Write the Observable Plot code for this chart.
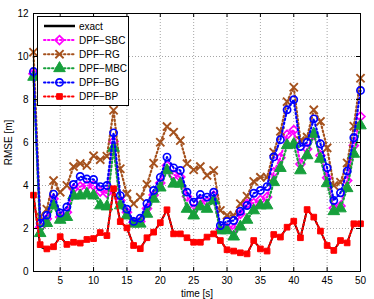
<!DOCTYPE html>
<html><head><meta charset="utf-8">
<script src="https://cdn.jsdelivr.net/npm/d3@7"></script>
<script src="https://cdn.jsdelivr.net/npm/@observablehq/plot@0.6"></script>
<style>
body{margin:0;background:#fff;}
#wrap{position:relative;width:374px;height:299px;font-family:"Liberation Sans",Arial,sans-serif;}
#legend{position:absolute;left:37px;top:16px;width:92px;height:90px;border:1px solid #000;background:#fff;box-sizing:border-box;}
#legend svg{position:absolute;left:0;top:0;}
</style></head><body><div id="wrap"></div>
<script>
const time = [1,2,3,4,5,6,7,8,9,10,11,12,13,14,15,16,17,18,19,20,21,22,23,24,25,26,27,28,29,30,31,32,33,34,35,36,37,38,39,40,41,42,43,44,45,46,47,48,49,50];
const exact = [3.55,1.15,1.0,1.15,1.62,1.26,1.36,1.32,1.49,1.53,1.81,1.67,3.85,2.32,2.03,1.21,1.06,1.57,1.83,2.27,2.87,1.75,1.75,1.57,1.36,1.36,1.6,1.75,1.44,1.01,0.95,0.87,0.82,1.44,1.05,0.95,1.72,1.6,2.06,2.34,1.57,2.88,2.53,1.88,1.21,0.98,1.44,1.33,2.22,2.22];
const dpfSBC = [9.2,2.06,2.45,3.38,2.53,2.76,3.85,3.95,4.0,4.0,3.72,3.65,6.05,3.3,2.76,2.29,2.33,2.93,3.56,4.12,4.93,4.5,4.39,3.49,2.91,3.3,3.25,3.53,1.98,2.03,1.98,2.68,3.15,3.18,3.33,3.46,4.61,5.29,6.36,6.58,5.0,5.7,6.35,5.4,4.36,2.95,3.05,4.23,5.86,7.21];
const dpfRG = [10.2,2.55,2.9,4.23,3.69,4.0,4.88,5.02,4.93,5.38,5.2,5.36,7.5,4.78,3.61,3.15,3.45,4.05,5.04,6.01,6.74,6.48,6.09,5.01,4.73,4.88,4.47,4.7,2.84,2.62,2.6,3.15,3.5,4.19,4.38,4.38,5.55,6.52,7.9,8.57,6.09,6.25,7.52,6.98,5.75,4.0,4.15,5.05,6.76,8.99];
const dpfMBC = [9.05,1.78,2.25,3.07,2.4,2.53,3.53,3.53,3.61,3.53,3.07,3.02,5.75,3.07,2.6,2.22,2.22,2.68,3.38,3.9,4.7,4.08,4.08,2.91,2.6,3.02,2.91,3.3,1.91,1.91,1.62,2.08,2.4,2.84,3.07,3.07,4.15,4.81,5.87,5.92,4.7,5.4,6.4,5.24,4.1,2.8,2.93,3.87,5.47,6.79];
const dpfBG = [9.3,2.25,2.62,3.6,2.72,3.0,4.05,4.42,4.3,4.28,3.95,4.0,6.45,3.53,2.9,2.33,2.48,3.16,3.77,4.38,5.32,4.82,4.7,3.69,3.22,3.58,3.46,3.69,2.14,2.33,2.37,2.8,3.07,3.64,3.77,3.95,5.33,6.13,7.52,7.99,5.81,6.01,7.1,5.94,4.82,3.3,3.66,4.67,6.22,8.42];
const dpfBP = [3.55,1.25,1.05,1.15,1.62,1.26,1.36,1.32,1.49,1.53,1.81,1.67,3.85,2.32,2.03,1.21,1.06,1.57,1.83,2.27,2.87,1.75,1.75,1.57,1.36,1.36,1.6,1.75,1.44,1.01,0.95,0.87,0.82,1.44,1.05,0.95,1.72,1.6,2.06,2.34,1.57,2.88,2.53,1.88,1.21,0.98,1.44,1.33,2.22,2.22];
const xTicks = [5,10,15,20,25,30,35,40,45,50];
const yTicks = [0,2,4,6,8,10,12];
const seriesNames = ["exact","DPF−SBC","DPF−RG","DPF−MBC","DPF−BG","DPF−BP"];

const styles = [
  {color:"#000000", solid:true},
  {color:"#ff00ff", symbol:"diamond2", fill:"none", r:4.0, sw:1.7},
  {color:"#a5521e", symbol:"times", fill:"none", r:3.8, sw:1.9},
  {color:"#17a03c", symbol:"triangle", fill:"#17a03c", r:4.3, sw:1},
  {color:"#0000ff", symbol:"circle", fill:"none", r:3.6, sw:1.7},
  {color:"#ff0000", symbol:"square", fill:"#ff0000", r:3.2, sw:1}
];
const values = [exact, dpfSBC, dpfRG, dpfMBC, dpfBG, dpfBP];

const W = 374, H = 299, mL = 33, mR = 14, mT = 13, mB = 28;
const iW = W - mL - mR, iH = H - mT - mB;

const marks = [
  Plot.gridX(xTicks, {stroke:"#000", strokeOpacity:0.35, strokeDasharray:"1,2"}),
  Plot.gridY(yTicks, {stroke:"#000", strokeOpacity:0.35, strokeDasharray:"1,2"}),
];
values.forEach((vals, i) => {
  const data = time.map((t, j) => ({t, v: vals[j]}));
  const s = styles[i];
  if (s.solid) {
    marks.push(Plot.line(data, {x:"t", y:"v", stroke:s.color, strokeWidth:1.8}));
  } else {
    marks.push(Plot.line(data, {x:"t", y:"v", stroke:s.color, strokeWidth:2.2, strokeDasharray:"1.5,2.5", strokeLinecap:"round"}));
    marks.push(Plot.dot(data, {x:"t", y:"v", symbol:()=>s.symbol, r:s.r, stroke:s.color, fill:s.fill, strokeWidth:s.sw}));
  }
});
marks.push(
  Plot.tickX(xTicks, {x:d=>d, insetTop:iH-4, stroke:"#000"}),
  Plot.tickX(xTicks, {x:d=>d, insetBottom:iH-4, stroke:"#000"}),
  Plot.tickY(yTicks, {y:d=>d, insetRight:iW-4, stroke:"#000"}),
  Plot.tickY(yTicks, {y:d=>d, insetLeft:iW-4, stroke:"#000"}),
  Plot.frame({stroke:"#000", strokeWidth:1}),
  Plot.axisX(xTicks, {tickSize:0, tickPadding:5, label:"time [s]", labelArrow:"none", labelAnchor:"center", labelOffset:25, fontSize:10}),
  Plot.axisY(yTicks, {tickSize:0, tickPadding:5, label:"RMSE [m]", labelArrow:"none", labelAnchor:"center", labelOffset:29, fontSize:10})
);

const chart = Plot.plot({
  width:W, height:H, marginLeft:mL, marginRight:mR, marginTop:mT, marginBottom:mB,
  x:{domain:[1,50]}, y:{domain:[0,12]},
  style:{fontFamily:"'Liberation Sans', Arial, sans-serif", fontSize:"10px", color:"#000", background:"#fff"},
  marks
});
const wrap = document.getElementById("wrap");
wrap.appendChild(chart);

// legend
const leg = document.createElement("div");
leg.id = "legend";
wrap.appendChild(leg);
const lsvg = d3.select(leg).append("svg").attr("width",92).attr("height",90);
seriesNames.forEach((name, i) => {
  const s = styles[i];
  const cy = 9 + i*14.1;
  const g = lsvg.append("g");
  g.append("line").attr("x1",6).attr("x2",37).attr("y1",cy).attr("y2",cy)
    .attr("stroke",s.color).attr("stroke-width", s.solid ? 2.5 : 2)
    .attr("stroke-dasharray", s.solid ? null : "1.5,2.5").attr("stroke-linecap", s.solid ? "butt" : "round");
  if (!s.solid) {
    const symMap = {diamond2:d3.symbolDiamond2, times:d3.symbolTimes, triangle:d3.symbolTriangle, circle:d3.symbolCircle, square:d3.symbolSquare};
    g.append("path").attr("d", d3.symbol(symMap[s.symbol], s.r*s.r*Math.PI)())
      .attr("transform",`translate(21.5,${cy})`)
      .attr("stroke",s.color).attr("fill",s.fill).attr("stroke-width",s.sw);
  }
  g.append("text").attr("x",41).attr("y",cy).attr("dy","0.35em")
    .attr("font-size",10).attr("font-family","'Liberation Sans', Arial, sans-serif").text(name);
});
</script>
</body></html>
